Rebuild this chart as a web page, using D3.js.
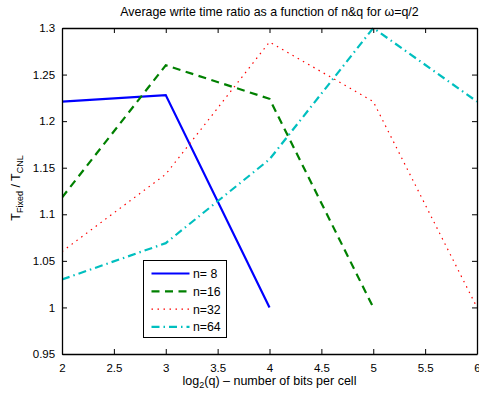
<!DOCTYPE html>
<html><head><meta charset="utf-8">
<script src="https://cdn.jsdelivr.net/npm/d3@7"></script>
<style>body{margin:0;background:#fff}svg{display:block}text{font-family:"Liberation Sans",Arial,Helvetica,sans-serif}</style>
</head><body>
<script>
const xValues = [2, 3, 4, 5, 6];
const n8  = [1.221, 1.228, 1.0];
const n16 = [1.118, 1.26, 1.224, 1.0];
const n32 = [1.06, 1.143, 1.285, 1.221, 1.0];
const n64 = [1.03, 1.069, 1.159, 1.3, 1.221];
const seriesNames = ["n= 8", "n=16", "n=32", "n=64"];
const xTicks = [2, 2.5, 3, 3.5, 4, 4.5, 5, 5.5, 6];
const yTicks = [0.95, 1, 1.05, 1.1, 1.15, 1.2, 1.25, 1.3];

const W = 479, H = 394;
const m = {l: 62, r: 2, t: 28, b: 40};
const svg = d3.select("body").append("svg").attr("width", W).attr("height", H);
const x = d3.scaleLinear().domain([2, 6]).range([m.l, W - m.r]);
const y = d3.scaleLinear().domain([0.95, 1.3]).range([H - m.b, m.t]);

const styles = [
  {color: "#0000ff", w: 2.2, dash: null},
  {color: "#008000", w: 2.2, dash: "8,5.5"},
  {color: "#ff0000", w: 1.2, dash: "1.5,4.5"},
  {color: "#00bfbf", w: 2.2, dash: "8,4,1.5,4"}
];
const allSeries = [n8, n16, n32, n64];

svg.append("defs").append("clipPath").attr("id", "clip")
  .append("rect").attr("x", m.l).attr("y", m.t - 2).attr("width", x(6) - m.l).attr("height", y(0.95) - m.t + 2);

const line = d3.line().x((d, i) => x(xValues[i])).y(d => y(d));
const g = svg.append("g").attr("clip-path", "url(#clip)");
allSeries.forEach((s, i) => {
  g.append("path").attr("d", line(s)).attr("fill", "none")
    .attr("stroke", styles[i].color).attr("stroke-width", styles[i].w)
    .attr("stroke-dasharray", styles[i].dash);
});

// axes (MATLAB style, inward ticks on all sides)
const fs = "11.5px";
const xb = d3.axisBottom(x).tickValues(xTicks).tickSizeInner(-5).tickSizeOuter(0).tickPadding(8).tickFormat(d3.format("~g"));
const xt = d3.axisTop(x).tickValues(xTicks).tickSizeInner(-5).tickSizeOuter(0).tickFormat("");
const yl = d3.axisLeft(y).tickValues(yTicks).tickSizeInner(-5).tickSizeOuter(0).tickPadding(8).tickFormat(d3.format("~g"));
const yr = d3.axisRight(y).tickValues(yTicks).tickSizeInner(-5).tickSizeOuter(0).tickFormat("");

const ax = [
  svg.append("g").attr("transform", `translate(0,${y(0.95)})`).call(xb),
  svg.append("g").attr("transform", `translate(0,${y(1.3)})`).call(xt),
  svg.append("g").attr("transform", `translate(${x(2)},0)`).call(yl),
  svg.append("g").attr("transform", `translate(${x(6)},0)`).call(yr)
];
ax.forEach(a => {
  a.select(".domain").attr("stroke", "#000").attr("stroke-width", 1.3);
  a.selectAll(".tick line").attr("stroke", "#000").attr("stroke-width", 1);
  a.selectAll("text").attr("font-size", fs).attr("fill", "#000").style("font-family", '"Liberation Sans",Arial,sans-serif');
});
ax[0].selectAll("text").attr("dy", "0.85em");
ax[2].selectAll("text").attr("dx", "0.1em");

// title
svg.append("text").attr("x", (x(2) + x(6)) / 2).attr("y", 16).attr("text-anchor", "middle")
  .attr("font-size", "12.4px").text("Average write time ratio as a function of n&q for ω=q/2");

// x label
const xlab = svg.append("text").attr("x", (x(2) + x(6)) / 2).attr("y", 385).attr("text-anchor", "middle").attr("font-size", "12.5px");
xlab.append("tspan").text("log");
xlab.append("tspan").attr("font-size", "9px").attr("dy", 3).text("2");
xlab.append("tspan").attr("dy", -3).text("(q) – number of bits per cell");

// y label
const ylab = svg.append("text").attr("transform", `translate(20,${(y(0.95) + y(1.3)) / 2 - 3}) rotate(-90)`)
  .attr("text-anchor", "middle").attr("font-size", "12.5px");
ylab.append("tspan").text("T");
ylab.append("tspan").attr("font-size", "9px").attr("dy", 3).text("Fixed");
ylab.append("tspan").attr("dy", -3).text(" / T");
ylab.append("tspan").attr("font-size", "9px").attr("dy", 3).text("CNL");

// legend
const lg = svg.append("g").attr("transform", "translate(143.5,260.5)");
lg.append("rect").attr("width", 83).attr("height", 77).attr("fill", "#fff").attr("stroke", "#000").attr("stroke-width", 1);
seriesNames.forEach((nm, i) => {
  const yy = 13 + i * 17.8;
  lg.append("line").attr("x1", 8).attr("x2", 46).attr("y1", yy).attr("y2", yy)
    .attr("stroke", styles[i].color).attr("stroke-width", styles[i].w).attr("stroke-dasharray", styles[i].dash);
  lg.append("text").attr("x", 49.5).attr("y", yy + 4.5).attr("font-size", "12.3px").text(nm);
});
</script>
</body></html>
